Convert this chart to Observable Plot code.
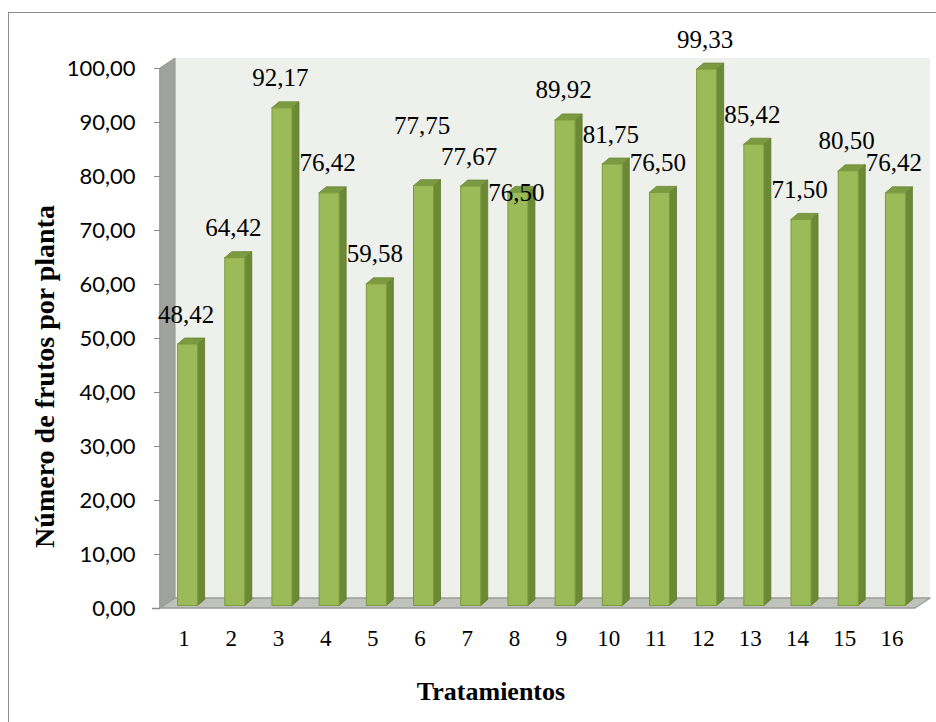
<!DOCTYPE html>
<html>
<head>
<meta charset="utf-8">
<script src="https://cdn.jsdelivr.net/npm/d3@7"></script>
<script src="https://cdn.jsdelivr.net/npm/@observablehq/plot@0.6"></script>
<style>
  html, body { margin: 0; padding: 0; background: #fff; overflow: hidden; }
  #wrap { position: relative; width: 936px; height: 722px; }
  #border { position: absolute; left: 8px; top: 12px; width: 960px; height: 760px; border: 1.5px solid #8c8c8c; pointer-events: none; }
  #chart { position: absolute; left: 0; top: 0; }
  #chart svg text { font-family: "Liberation Serif", "Times New Roman", serif; }
  #chart svg g.yaxis text { font-family: Lato, "Liberation Sans", sans-serif; }
</style>
</head>
<body>
<div id="wrap"><div id="border"></div><div id="chart"></div></div>
<script>
// ---- data ----
const tratamientos = [1, 2, 3, 4, 5, 6, 7, 8, 9, 10, 11, 12, 13, 14, 15, 16];
const frutos = [48.42, 64.42, 92.17, 76.42, 59.58, 77.75, 77.67, 76.50, 89.92, 81.75, 76.50, 99.33, 85.42, 71.50, 80.50, 76.42];
const yTicks = [0, 10, 20, 30, 40, 50, 60, 70, 80, 90, 100];
const yLabel = "Número de frutos por planta";
const xLabel = "Tratamientos";

// ---- layout ----
const W = 936, H = 722;
const mL = 160, mR = 21, mT = 68, mB = 114;
const xDom = [0.5, 16.5], yDom = [0, 100];
const ux = (xDom[1] - xDom[0]) / (W - mL - mR); // data units per px (x)
const uy = (yDom[1] - yDom[0]) / (H - mT - mB); // data units per px (y)

const fmt = v => v.toFixed(2).replace(".", ",");

// 3D geometry (pixel depths converted to data units)
const wallDX = 15 * ux, wallDY = 10 * uy;
const barHalf = 10 * ux, barOffX = 4 * ux, barOffY = 2.5 * uy;
const barDX = 7 * ux, barDY = 6 * uy;

const bars = tratamientos.map((t, i) => {
  const v = frutos[i];
  return {
    t, v,
    xL: t - barHalf + barOffX,
    xR: t + barHalf + barOffX,
    yB: barOffY,
    yT: v + barOffY,
    ldy: -30
  };
});

// simple label collision avoidance (in px)
const thr = 18;
const lab = b => b.yT / uy - b.ldy; // label height in px above zero
for (let i = 1; i < bars.length; i++) {
  const prev = bars[i - 1], cur = bars[i];
  if (Math.abs(lab(prev) - lab(cur)) < thr) {
    const prev2 = bars[i - 2];
    const raised = prev.yT / uy + 60;
    if (!prev2 || Math.abs(raised - lab(prev2)) >= thr) {
      prev.ldy = -60;
    } else {
      for (const c of [0, -60]) {
        cur.ldy = c;
        if (Math.abs(lab(prev) - lab(cur)) >= thr) break;
      }
    }
  }
}

const sideRows = bars.flatMap(b => [
  {z: b.t, x: b.xR, y1: b.yB, y2: b.yT},
  {z: b.t, x: b.xR + barDX, y1: b.yB + barDY, y2: b.yT + barDY}
]);
const topRows = bars.flatMap(b => [
  {z: b.t, y: b.yT, x1: b.xL, x2: b.xR},
  {z: b.t, y: b.yT + barDY, x1: b.xL + barDX, x2: b.xR + barDX}
]);
const sideWall = [
  {x: xDom[0], y1: yDom[0], y2: yDom[1]},
  {x: xDom[0] + wallDX, y1: yDom[0] + wallDY, y2: yDom[1] + wallDY}
];
const floor = [
  {y: yDom[0], x1: xDom[0], x2: xDom[1]},
  {y: yDom[0] + wallDY, x1: xDom[0] + wallDX, x2: xDom[1] + wallDX}
];

const chart = Plot.plot({
  width: W, height: H,
  marginLeft: mL, marginRight: mR, marginTop: mT, marginBottom: mB,
  x: {type: "linear", domain: xDom},
  y: {domain: yDom},
  style: {background: "transparent", overflow: "visible", fontFamily: "Liberation Serif"},
  marks: [
    // back wall
    Plot.rect([0], {x1: xDom[0] + wallDX, x2: xDom[1] + wallDX, y1: yDom[0] + wallDY, y2: yDom[1] + wallDY, fill: "#eef1eb"}),
    // left wall
    Plot.areaY(sideWall, {x: "x", y1: "y1", y2: "y2", fill: "#a0a39d", stroke: "#8f928c", strokeWidth: 1, curve: "linear"}),
    // floor
    Plot.areaX(floor, {y: "y", x1: "x1", x2: "x2", fill: "#c0c2bc", stroke: "#9a9c97", strokeWidth: 1.5, curve: "linear"}),
    // y axis
    Plot.axisY({ticks: yTicks, tickFormat: fmt, tickSize: 6, tickPadding: 19, label: null,
      fontSize: 22, fontFamily: "Lato", fill: "#000", stroke: "#8c8c8c", className: "yaxis"}),
    Plot.ruleY([0], {x1: xDom[0] - 8 * ux, x2: xDom[0], stroke: "#8c8c8c", strokeWidth: 1.5}),
    // x axis labels
    Plot.axisX({ticks: tratamientos, tickFormat: d => String(d), tickSize: 0, tickPadding: 21, label: null,
      fontSize: 23, fill: "#000"}),
    // bars: side, top, front
    Plot.areaY(sideRows, {x: "x", y1: "y1", y2: "y2", z: "z", fill: "#6c8935", stroke: "#5d772c", strokeWidth: 0.8, curve: "linear"}),
    Plot.areaX(topRows, {y: "y", x1: "x1", x2: "x2", z: "z", fill: "#7c9a42", stroke: "#6a8535", strokeWidth: 0.8, curve: "linear"}),
    Plot.rect(bars, {x1: "xL", x2: "xR", y1: "yB", y2: "yT", fill: "#9bbb59", stroke: "#7b9a3d", strokeWidth: 1}),
    // value labels
    Plot.text(bars, {x: d => d.t + 2 * ux, y: d => d.yT - d.ldy * uy, text: d => fmt(d.v),
      fontSize: 25, fill: "#000"}),
    // axis titles
    Plot.text([yLabel], {frameAnchor: "left", textAnchor: "middle", text: d => d, rotate: -90, dx: -115, dy: 38,
      fontSize: 28, fontWeight: "bold", fill: "#000"}),
    Plot.text([xLabel], {frameAnchor: "bottom", textAnchor: "middle", text: d => d, dx: -47, dy: 91,
      fontSize: 26, fontWeight: "bold", fill: "#000"})
  ]
});
document.getElementById("chart").appendChild(chart);
</script>
</body>
</html>
